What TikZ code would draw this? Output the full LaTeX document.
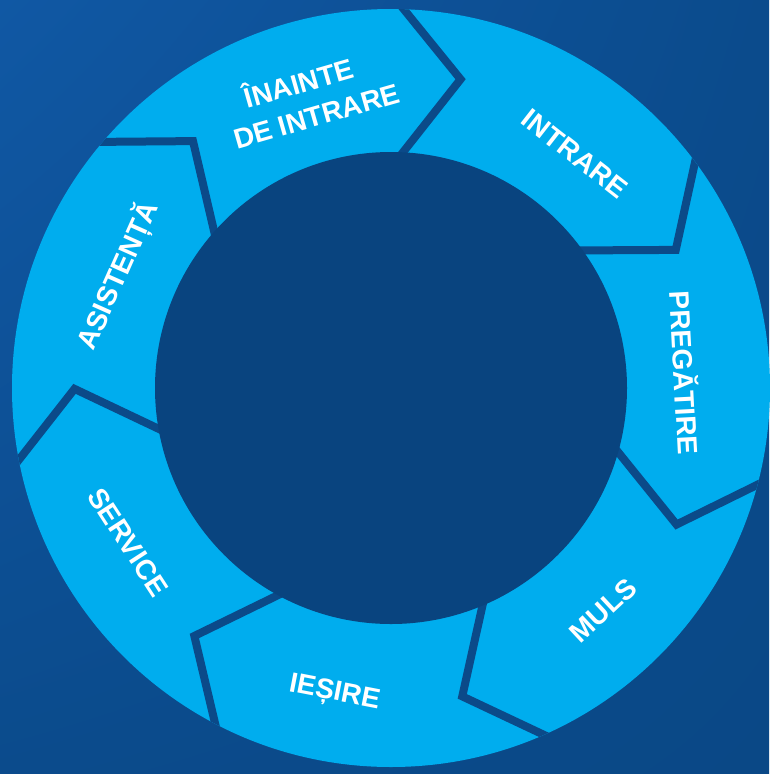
\documentclass[tikz,border=0pt]{standalone}
\usepackage{fontspec}
\usetikzlibrary{shadings}
\setmainfont{Liberation Sans}
\definecolor{bgtl}{HTML}{1058A4}
\definecolor{bgmain}{HTML}{0B4B8C}
\definecolor{bgbr}{HTML}{0A4886}
\definecolor{innerc}{HTML}{09447F}
\definecolor{gapc}{HTML}{0B4A89}
\definecolor{ringc}{HTML}{00ADEE}
\tikzset{
  lbl/.style={text=white, font=\bfseries\fontsize{28}{28}\selectfont,
    inner sep=0pt, text height=20pt, text depth=0pt, anchor=center},
  gapline/.style={draw=gapc, line width=8pt, line join=miter, miter limit=10}
}
\begin{document}
\begin{tikzpicture}[x=1pt,y=1pt]
\useasboundingbox (0,0) rectangle (769,-774);
\shade[upper left=bgtl, upper right=bgmain, lower left=bgmain, lower right=bgbr] (0,0) rectangle (769,-774);
\coordinate (O) at (391,-388);
% ring
\fill[ringc] (O) circle (379);
\begin{scope}
  \clip (O) circle (379);
  \begin{scope}[shift={(391,-388)}]
    \foreach \k in {0,...,6} {
      \pgfmathsetmacro\a{89.7-51.4286*\k}
      \pgfmathsetmacro\b{\a-12.4}
      \draw[gapline] (\a:392) -- (\b:316.5) -- (\a:222);
    }
  \end{scope}
\end{scope}
\fill[innerc] (O) circle (236);
% labels
\node[lbl, rotate=16]  (l1a) at (299,-83.6) {ÎNAINTE};
\node[lbl, rotate=16]  (l1b) at (316.6,-116) {DE INTRARE};
\node[lbl, rotate=-38] (l2) at (575,-153.4) {INTRARE};
\node[lbl, rotate=-87] (l3) at (684,-373) {PREGĂTIRE};
\node[lbl, rotate=43]  (l4) at (603,-610) {MULS};
\node[lbl, rotate=-11] (l5) at (335,-690) {IEȘIRE};
\node[lbl, rotate=-57] (l6) at (128.5,-542) {SERVICE};
\node[lbl, rotate=66]  (l7) at (117,-275) {ASISTENȚĂ};
\end{tikzpicture}
\end{document}
